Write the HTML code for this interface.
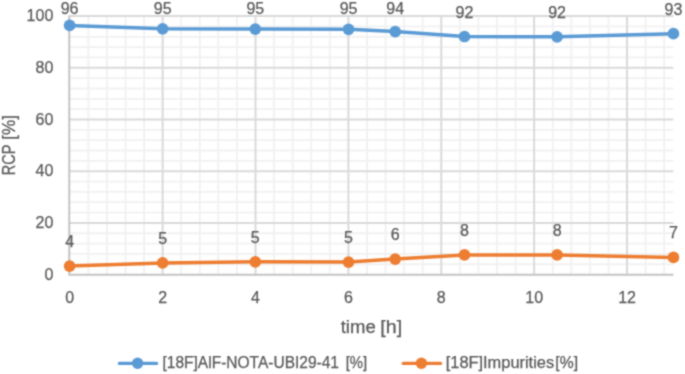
<!DOCTYPE html><html><head><meta charset="utf-8"><style>html,body{margin:0;padding:0;background:#fff;width:685px;height:374px;overflow:hidden}svg{display:block;will-change:transform}text{font-family:"Liberation Sans",sans-serif;fill:#595959;stroke:#595959;stroke-width:0.25}</style></head><body>
<svg width="685" height="374" viewBox="0 0 685 374">
<defs><filter id="sm" filterUnits="userSpaceOnUse" x="0" y="0" width="685" height="374" color-interpolation-filters="sRGB"><feConvolveMatrix order="3" kernelMatrix="1 2 1 2 8 2 1 2 1" divisor="20" edgeMode="duplicate"/></filter></defs><g filter="url(#sm)">
<rect width="685" height="374" fill="#fff"/>
<path d="M88.33 16.10V274.60M106.90 16.10V274.60M125.48 16.10V274.60M144.05 16.10V274.60M181.21 16.10V274.60M199.78 16.10V274.60M218.36 16.10V274.60M236.93 16.10V274.60M274.09 16.10V274.60M292.66 16.10V274.60M311.24 16.10V274.60M329.81 16.10V274.60M366.97 16.10V274.60M385.54 16.10V274.60M404.12 16.10V274.60M422.69 16.10V274.60M459.85 16.10V274.60M478.42 16.10V274.60M497.00 16.10V274.60M515.57 16.10V274.60M552.73 16.10V274.60M571.30 16.10V274.60M589.88 16.10V274.60M608.45 16.10V274.60M645.61 16.10V274.60M664.18 16.10V274.60M69.75 264.26H673.47M69.75 253.92H673.47M69.75 243.58H673.47M69.75 233.24H673.47M69.75 212.56H673.47M69.75 202.22H673.47M69.75 191.88H673.47M69.75 181.54H673.47M69.75 160.86H673.47M69.75 150.52H673.47M69.75 140.18H673.47M69.75 129.84H673.47M69.75 109.16H673.47M69.75 98.82H673.47M69.75 88.48H673.47M69.75 78.14H673.47M69.75 57.46H673.47M69.75 47.12H673.47M69.75 36.78H673.47M69.75 26.44H673.47" stroke="#f1f1f1" stroke-width="1.8" fill="none"/>
<path d="M162.63 16.10V274.60M255.51 16.10V274.60M348.39 16.10V274.60M441.27 16.10V274.60M534.15 16.10V274.60M627.03 16.10V274.60M69.75 222.90H673.47M69.75 171.20H673.47M69.75 119.50H673.47M69.75 67.80H673.47M69.75 16.10H673.47" stroke="#dadada" stroke-width="2" fill="none"/>
<path d="M69.25 15.60V274.85H673.47" stroke="#c3c3c3" stroke-width="2" fill="none"/>
<polyline points="69.60,25.41 162.65,28.77 255.30,29.03 348.55,29.28 395.20,31.61 464.50,36.52 557.10,36.78 673.45,33.68" stroke="#5b9bd5" stroke-width="3.5" fill="none" stroke-linejoin="round" stroke-linecap="round"/>
<circle cx="69.60" cy="25.41" r="5.85" fill="#5b9bd5"/>
<circle cx="162.65" cy="28.77" r="5.85" fill="#5b9bd5"/>
<circle cx="255.30" cy="29.03" r="5.85" fill="#5b9bd5"/>
<circle cx="348.55" cy="29.28" r="5.85" fill="#5b9bd5"/>
<circle cx="395.20" cy="31.61" r="5.85" fill="#5b9bd5"/>
<circle cx="464.50" cy="36.52" r="5.85" fill="#5b9bd5"/>
<circle cx="557.10" cy="36.78" r="5.85" fill="#5b9bd5"/>
<circle cx="673.45" cy="33.68" r="5.85" fill="#5b9bd5"/>
<polyline points="69.60,266.07 162.65,262.97 255.30,261.80 348.55,262.06 395.20,259.09 464.50,254.95 557.10,254.95 673.45,257.41" stroke="#ed7d31" stroke-width="3.5" fill="none" stroke-linejoin="round" stroke-linecap="round"/>
<circle cx="69.60" cy="266.07" r="5.85" fill="#ed7d31"/>
<circle cx="162.65" cy="262.97" r="5.85" fill="#ed7d31"/>
<circle cx="255.30" cy="261.80" r="5.85" fill="#ed7d31"/>
<circle cx="348.55" cy="262.06" r="5.85" fill="#ed7d31"/>
<circle cx="395.20" cy="259.09" r="5.85" fill="#ed7d31"/>
<circle cx="464.50" cy="254.95" r="5.85" fill="#ed7d31"/>
<circle cx="557.10" cy="254.95" r="5.85" fill="#ed7d31"/>
<circle cx="673.45" cy="257.41" r="5.85" fill="#ed7d31"/>
<text x="69.60" y="13.60" font-size="16" text-anchor="middle">96</text>
<text x="162.65" y="13.60" font-size="16" text-anchor="middle">95</text>
<text x="255.30" y="13.60" font-size="16" text-anchor="middle">95</text>
<text x="348.55" y="13.60" font-size="16" text-anchor="middle">95</text>
<text x="395.20" y="13.60" font-size="16" text-anchor="middle">94</text>
<text x="464.50" y="17.52" font-size="16" text-anchor="middle">92</text>
<text x="557.10" y="17.78" font-size="16" text-anchor="middle">92</text>
<text x="673.45" y="14.68" font-size="16" text-anchor="middle">93</text>
<text x="69.60" y="247.07" font-size="16" text-anchor="middle">4</text>
<text x="162.65" y="243.97" font-size="16" text-anchor="middle">5</text>
<text x="255.30" y="242.80" font-size="16" text-anchor="middle">5</text>
<text x="348.55" y="243.06" font-size="16" text-anchor="middle">5</text>
<text x="395.20" y="240.09" font-size="16" text-anchor="middle">6</text>
<text x="464.50" y="235.95" font-size="16" text-anchor="middle">8</text>
<text x="557.10" y="235.95" font-size="16" text-anchor="middle">8</text>
<text x="673.45" y="238.41" font-size="16" text-anchor="middle">7</text>
<text x="53.3" y="279.60" font-size="16" text-anchor="end">0</text>
<text x="53.3" y="227.90" font-size="16" text-anchor="end">20</text>
<text x="53.3" y="176.20" font-size="16" text-anchor="end">40</text>
<text x="53.3" y="124.50" font-size="16" text-anchor="end">60</text>
<text x="53.3" y="72.80" font-size="16" text-anchor="end">80</text>
<text x="53.3" y="21.10" font-size="16" text-anchor="end">100</text>
<text x="69.75" y="302.8" font-size="16" text-anchor="middle">0</text>
<text x="162.63" y="302.8" font-size="16" text-anchor="middle">2</text>
<text x="255.51" y="302.8" font-size="16" text-anchor="middle">4</text>
<text x="348.39" y="302.8" font-size="16" text-anchor="middle">6</text>
<text x="441.27" y="302.8" font-size="16" text-anchor="middle">8</text>
<text x="534.15" y="302.8" font-size="16" text-anchor="middle">10</text>
<text x="627.03" y="302.8" font-size="16" text-anchor="middle">12</text>
<text x="340.70" y="332.60" font-size="18" textLength="35.00" lengthAdjust="spacingAndGlyphs">time</text>
<text x="380.29" y="332.60" font-size="18" textLength="21.82" lengthAdjust="spacingAndGlyphs">[h]</text>
<text x="-175.22" y="0.00" font-size="17.6" textLength="30.63" lengthAdjust="spacingAndGlyphs" transform="translate(14.8,0) rotate(-90)">RCP</text>
<text x="-139.69" y="0.00" font-size="17.6" textLength="24.67" lengthAdjust="spacingAndGlyphs" transform="translate(14.8,0) rotate(-90)">[%]</text>
<path d="M119.30 363.4H156.60" stroke="#5b9bd5" stroke-width="3.2" stroke-linecap="round"/>
<circle cx="137.60" cy="363.3" r="5.7" fill="#5b9bd5"/>
<path d="M403.20 363.4H440.60" stroke="#ed7d31" stroke-width="3.2" stroke-linecap="round"/>
<circle cx="421.40" cy="363.3" r="5.7" fill="#ed7d31"/>
<text x="162.50" y="368.20" font-size="16" textLength="176.50" lengthAdjust="spacingAndGlyphs">[18F]AlF-NOTA-UBI29-41</text>
<text x="345.64" y="368.20" font-size="16" textLength="21.52" lengthAdjust="spacingAndGlyphs">[%]</text>
<text x="445.72" y="368.20" font-size="16" textLength="108.38" lengthAdjust="spacingAndGlyphs">[18F]Impurities</text>
<text x="555.29" y="368.20" font-size="16" textLength="22.72" lengthAdjust="spacingAndGlyphs">[%]</text>
</g></svg></body></html>
